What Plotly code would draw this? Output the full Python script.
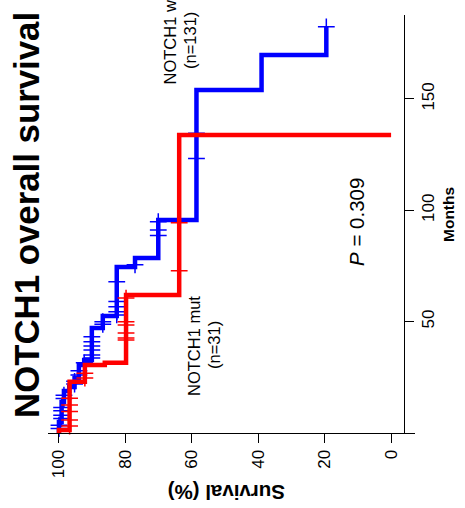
import plotly.graph_objects as go

# Kaplan-Meier estimates, NOTCH1 wild type (n=131)
wt_event_months = [4.9, 13.9, 18.9, 20.7, 24.7, 30.5, 32.8, 47.1, 52.5, 74.5, 78.6, 95.6, 154.0, 169.7]
wt_survival = [99.2, 98.5, 96.9, 95.3, 94.0, 92.4, 90.1, 86.8, 82.6, 77.1, 70.1, 58.6, 39.0, 19.5]
wt_last_followup = 182.4
wt_censor_months = [2.0, 3.5, 6.5, 8.0, 10.0, 11.5, 15.5, 17.0, 22.0, 23.2, 26.0, 28.0, 31.5,
                    33.7, 35.0, 37.3, 39.1, 41.0, 43.2, 48.8, 50.0, 53.0, 54.5, 56.7, 59.0,
                    67.9, 75.5, 88.7, 91.2, 94.9, 123.3, 134.6, 182.4]

# Kaplan-Meier estimates, NOTCH1 mutant (n=31)
mut_event_months = [1.3, 23.0, 30.5, 31.6, 62.0, 133.8]
mut_survival = [96.8, 92.2, 86.2, 79.8, 63.8, 0.0]
mut_censor_months = [3.1, 5.8, 9.6, 12.6, 15.6, 24.7, 26.8, 41.8, 42.7, 44.9, 48.5, 50.0,
                     60.6, 72.9, 94.4]

survival_ticks = [0, 20, 40, 60, 80, 100]
month_ticks = [50, 100, 150]

BLUE = "#0000FF"
RED = "#FF0000"
FONT = "Liberation Sans, Arial, Helvetica, sans-serif"


def surv_at(t, times, surv):
    s = 100.0
    for ti, si in zip(times, surv):
        if ti <= t:
            s = si
    return s


def step_path(times, surv, end=None):
    xs = [100.0] + list(surv)
    ys = [0.0] + list(times)
    if end is not None:
        xs.append(surv[-1])
        ys.append(end)
    return xs, ys


fig = go.Figure()

# survival on the horizontal axis (reversed), months running upward
for times, surv, end, cens, color in [
    (wt_event_months, wt_survival, wt_last_followup, wt_censor_months, BLUE),
    (mut_event_months, mut_survival, None, mut_censor_months, RED),
]:
    xs, ys = step_path(times, surv, end)
    fig.add_trace(go.Scatter(x=xs, y=ys, mode="lines", line=dict(color=color, width=4.5, shape="vh"),
                             hoverinfo="skip", showlegend=False))
    fig.add_trace(go.Scatter(x=[surv_at(c, times, surv) for c in cens], y=cens, mode="markers",
                             marker=dict(symbol="cross-thin", size=12, color=color,
                                         line=dict(color=color, width=1.5)),
                             hoverinfo="skip", showlegend=False, cliponaxis=False))

L, R, T, B = 48, 50, 15, 75
W, H = 465, 508
pw, ph = W - L - R, H - T - B


def px(xp):
    return (xp - L) / pw


def py(yp):
    return (H - B - yp) / ph


fig.update_layout(
    width=W, height=H,
    margin=dict(l=L, r=R, t=T, b=B, pad=0),
    paper_bgcolor="white", plot_bgcolor="white",
    font=dict(family=FONT, color="black"),
    xaxis=dict(range=[103.3, -7.2], tickvals=survival_ticks, ticks="outside", ticklen=9,
               tickwidth=1, tickcolor="black", tickangle=-90, tickfont=dict(size=17),
               showline=True, linecolor="black", linewidth=1, showgrid=False, zeroline=False),
    yaxis=dict(range=[0, 187.7], tickvals=month_ticks, ticks="outside", ticklen=9,
               tickwidth=1, tickcolor="black", tickangle=-90, tickfont=dict(size=17),
               side="right", anchor="free", position=px(404),
               showline=True, linecolor="black", linewidth=1, showgrid=False, zeroline=False),
)

ann = [
    dict(text="<b>NOTCH1 overall survival</b>", x=px(26), y=py(215), size=34.8, angle=-90),
    dict(text="<b>Months</b>", x=px(448), y=py(215), size=15.5, angle=-90),
    dict(text="<b>Survival (%)</b>", x=px(227), y=py(493), size=20.5, angle=180),
    dict(text="NOTCH1 mut", x=px(193.5), y=py(346.5), size=16.5, angle=-90),
    dict(text="(n=31)", x=px(214), y=py(345), size=16.5, angle=-90),
    dict(text="NOTCH1 wt", x=px(170), y=py(40.5), size=16.5, angle=-90),
    dict(text="(n=131)", x=px(190.5), y=py(40.5), size=16.5, angle=-90),
    dict(text="<i>P</i> = 0.309", x=px(356.5), y=py(222.5), size=20.5, angle=-90),
]
for a in ann:
    fig.add_annotation(text=a["text"], x=a["x"], y=a["y"], xref="paper", yref="paper",
                       xanchor="center", yanchor="middle", showarrow=False,
                       textangle=a["angle"], font=dict(size=a["size"], family=FONT, color="black"))

fig.write_html("out.html")
